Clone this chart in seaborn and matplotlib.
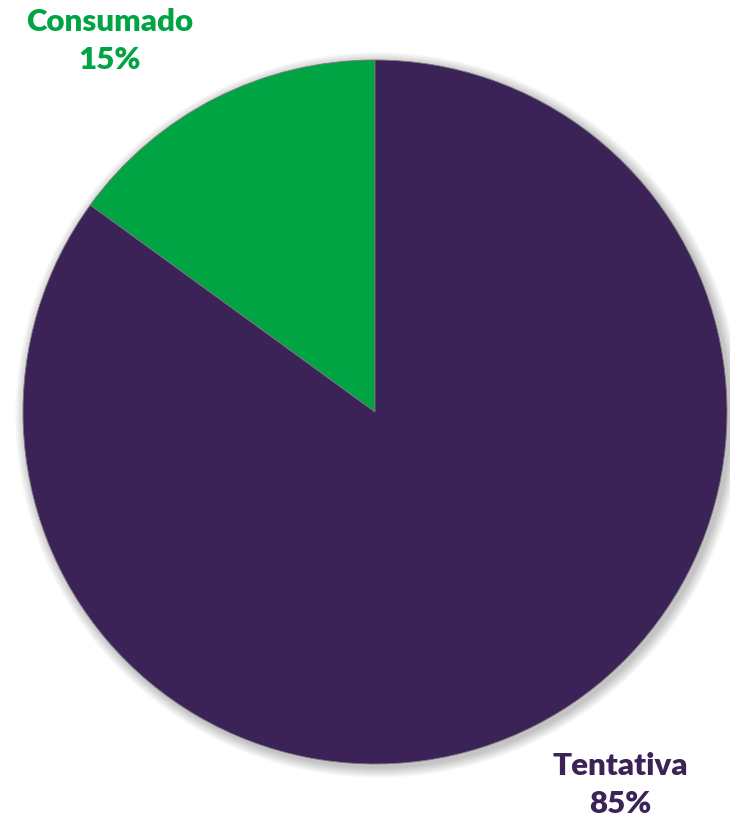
import matplotlib
matplotlib.use("Agg")
import matplotlib.pyplot as plt
from matplotlib.patches import Circle
import seaborn as sns

# data
categories = ["Consumado", "Tentativa"]
shares = [15, 85]
colors = ["#00A443", "#3B2257"]

sns.set_theme(style="white")
plt.rcParams["font.family"] = ["Lato", "DejaVu Sans"]

W, H = 730, 826
fig = plt.figure(figsize=(W / 100, H / 100), dpi=100)
ax = fig.add_axes([0, 0, 1, 1])

cx, cy, r = 375, H - 412, 352

# soft shadow around the pie
for i in range(12):
    ax.add_patch(Circle((cx + 3, cy - 3), r + 1 + i * 0.9, color="black",
                        alpha=0.02, lw=0, zorder=0))

ax.pie(shares, colors=colors, startangle=90, counterclock=True,
       center=(cx, cy), radius=r, frame=True,
       wedgeprops=dict(linewidth=0.6, edgecolor="#7a7a7a"))
ax.set_xlim(0, W)
ax.set_ylim(0, H)
ax.set_aspect("equal")
ax.axis("off")

ax.text(110, H - 41, f"{categories[0]}\n{shares[0]}%", color=colors[0],
        fontsize=22.5, fontweight="heavy", ha="center", va="center",
        linespacing=1.45)
ax.text(620, H - 785, f"{categories[1]}\n{shares[1]}%", color=colors[1],
        fontsize=22.5, fontweight="heavy", ha="center", va="center",
        linespacing=1.45)

fig.savefig("out.png", dpi=100)
